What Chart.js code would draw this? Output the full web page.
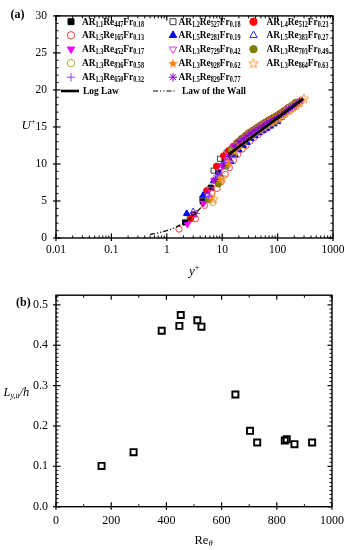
<!DOCTYPE html>
<html><head><meta charset="utf-8">
<script src="https://cdn.jsdelivr.net/npm/chart.js@4.4.1/dist/chart.umd.min.js"></script>
<style>html,body{margin:0;padding:0;background:#fff;}canvas{display:block;}</style>
</head><body>
<canvas id="c1" width="351" height="280"></canvas>
<canvas id="c2" width="351" height="270"></canvas>
<script>
// ---------- DATA: panel (a) ----------
const arVals = ['1.1','1.2','1.4','1.5','1.5','1.5','1.3','1.3','1.3','1.3','1.3','1.3','1.3','1.5'];
const reVals = ['447','527','512','165','281','383','452','729','703','836','928','864','650','829'];
const frVals = ['0.18','0.18','0.23','0.13','0.19','0.27','0.17','0.42','0.49','0.58','0.62','0.63','0.32','0.77'];

const yp447 = [2.14,3.1,4.45,6.2,8.5,11,14,17,20,24,28,33,39,46,54,63,74,86,100,116,135];
const up447 = [2.1,3.2,4.95,6.8,8.9,10.3,11.6,12.4,13.0,13.4,13.8,14.2,14.6,14.9,15.2,15.5,15.9,16.1,16.4,16.7,17.0];
const yp527 = [2.6,4.4,7.0,9.1,12,15,18,22,26,30,35,41,48,56,65,76,88,102,118,137,158];
const up527 = [2.7,5.3,9.1,10.7,11.5,12.1,12.7,13.3,13.7,14.1,14.4,14.75,15.1,15.4,15.7,16.0,16.25,16.55,16.85,17.2,17.55];
const yp512 = [2.7,5.25,7.9,10.6,13,16,19,23,27,32,37,44,52,60,70,82,95,110,128,150];
const up512 = [2.6,6.4,9.7,11.1,11.8,12.4,12.9,13.5,13.9,14.3,14.6,15.0,15.35,15.65,15.95,16.25,16.5,16.8,17.15,17.5];
const yp165 = [1.66,3.3,4.8,6.5,8.1,9.6,11.4,13.5,16,19,23,27,32,38,45,53,62,72];
const up165 = [1.2,2.6,4.4,6.05,6.7,7.6,8.6,9.5,10.5,11.3,12.0,12.5,13.1,13.6,14.0,14.45,14.8,15.1];
const yp281 = [2.29,4.5,7.0,9.1,11.5,14.4,17,20,24,28,33,39,46,54,63,74,86,100];
const up281 = [3.3,5.75,7.7,8.6,9.6,10.3,11.2,11.9,12.5,12.9,13.4,13.8,14.2,14.5,14.8,15.1,15.4,15.7];
const yp383 = [3.0,5.5,8.3,12,15,18,21,25,29,34,40,47,55,64,75,87,101,117];
const up383 = [3.55,5.9,8.2,10.0,11.3,12.0,12.5,13.0,13.4,13.8,14.1,14.45,14.8,15.1,15.4,15.65,15.95,16.25];
const yp452 = [2.35,4.6,7.1,10,13,16,19,22,26,31,36,42,49,57,67,78,91,106,123,140];
const up452 = [1.85,4.7,7.8,9.8,11.0,12.3,12.9,13.3,13.7,14.1,14.4,14.75,15.1,15.4,15.7,16.0,16.3,16.6,16.9,17.2];
const yp729 = [3.2,6.0,9.0,12.5,16,20,24,28,33,39,46,54,63,74,86,100,116,135,158,185,215];
const up729 = [3.3,6.6,9.0,10.6,12.0,12.8,13.2,13.6,14.0,14.35,14.7,15.0,15.35,15.65,15.9,16.2,16.5,16.85,17.25,17.6,17.95];
const yp703 = [5.7,8.5,11.5,14.5,18,22,26,30,35,41,48,56,65,76,88,102,118,137,160,185,212];
const up703 = [5.2,7.3,9.8,11.9,12.8,13.4,13.8,14.2,14.5,14.85,15.2,15.5,15.8,16.1,16.35,16.65,16.95,17.3,17.7,18.0,18.35];
const yp836 = [6.7,9.5,12.5,16,20,24,28,33,39,46,54,63,74,86,100,116,135,158,185,215,245];
const up836 = [4.8,7.9,9.8,11.2,12.4,13.0,13.4,13.8,14.15,14.5,14.8,15.15,15.45,15.7,16.0,16.3,16.65,17.05,17.4,17.75,18.1];
const yp928 = [6.3,9.0,12.5,16,19,23,27,32,37,44,52,60,70,82,95,110,128,150,172,200,235,270];
const up928 = [5.5,8.0,10.3,11.7,12.6,13.3,13.7,14.1,14.4,14.8,15.15,15.45,15.75,16.05,16.3,16.6,16.95,17.3,17.65,18.0,18.35,18.65];
const yp864 = [7.0,10,13,17,20,24,29,34,40,47,55,64,75,87,101,117,136,158,184,214,250,300];
const up864 = [5.3,8.2,10.2,11.9,12.7,13.2,13.7,14.1,14.45,14.8,15.15,15.45,15.75,16.0,16.3,16.6,16.95,17.35,17.7,18.05,18.4,18.85];
const yp650 = [3.4,5.6,8.0,11,14,17,21,25,30,35,41,48,56,65,76,88,102,118,137,160,185];
const up650 = [3.3,5.6,8.4,10.2,11.4,12.3,13.0,13.4,13.9,14.2,14.55,14.9,15.2,15.5,15.8,16.05,16.35,16.65,17.0,17.4,17.7];
const yp829 = [7.5,10.5,13.5,17,20,24,28,33,39,46,54,63,74,86,100,116,135,158,185,215,250];
const up829 = [7.9,9.8,11.0,12.4,13.0,13.4,13.8,14.2,14.55,14.9,15.2,15.55,15.85,16.1,16.4,16.7,17.05,17.45,17.8,18.15,18.5];

const logLawY = [13, 30, 100, 290];
const logLawU = [11.26, 13.30, 16.23, 18.83];
const wallY = [0.5,0.6,0.7,0.8,1,1.2,1.5,2,2.5,3,4,5];
const wallU = [0.5,0.6,0.7,0.8,1,1.2,1.5,2,2.5,3,4,5];

const xTicksA = [0.01, 0.1, 1, 10, 100, 1000];
const xTickLabelsA = ['0.01','0.1','1','10','100','1000'];
const yTicksA = [0, 5, 10, 15, 20, 25, 30];

// ---------- DATA: panel (b) ----------
const reTheta = [165, 281, 383, 447, 452, 512, 527, 650, 703, 729, 829, 836, 864, 928];
const lyh = [0.101, 0.135, 0.436, 0.448, 0.475, 0.462, 0.446, 0.278, 0.188, 0.159, 0.164, 0.167, 0.155, 0.159];
const xTicksB = [0, 200, 400, 600, 800, 1000];
const yTicksB = [0.0, 0.1, 0.2, 0.3, 0.4, 0.5];

// ---------- styles ----------
const SERIF = '"Liberation Serif", "Times New Roman", serif';
Chart.defaults.color = '#000';
Chart.defaults.font.family = SERIF;

function makeStar(color, filled) {
  const s = 12, c = document.createElement('canvas');
  c.width = s; c.height = s;
  const g = c.getContext('2d');
  g.beginPath();
  for (let i = 0; i < 10; i++) {
    const r = i % 2 ? 2.1 : 5.0;
    const a = -Math.PI / 2 + i * Math.PI / 5;
    const px = s / 2 + r * Math.cos(a), py = s / 2 + 0.5 + r * Math.sin(a);
    if (i) g.lineTo(px, py); else g.moveTo(px, py);
  }
  g.closePath();
  if (filled) { g.fillStyle = color; g.fill(); }
  else { g.strokeStyle = color; g.lineWidth = 1; g.stroke(); }
  return c;
}

const profiles = [[yp447,up447],[yp527,up527],[yp512,up512],[yp165,up165],[yp281,up281],[yp383,up383],
  [yp452,up452],[yp729,up729],[yp703,up703],[yp836,up836],[yp928,up928],[yp864,up864],[yp650,up650],[yp829,up829]];

const styles = [
  {style:'rect', color:'#000000', fill:true, r:3.6},
  {style:'rect', color:'#3a3a3a', fill:false, r:3.6},
  {style:'circle', color:'#ff0000', fill:true, r:3.1},
  {style:'circle', color:'#ff3b3b', fill:false, r:3.1},
  {style:'triangle', color:'#0000ff', fill:true, r:3.7},
  {style:'triangle', color:'#2a2ae8', fill:false, r:3.7},
  {style:'triangle', rot:180, color:'#ff00ff', fill:true, r:3.7},
  {style:'triangle', rot:180, color:'#e033e0', fill:false, r:3.7},
  {style:'circle', color:'#7f7f00', fill:true, r:3.1},
  {style:'circle', color:'#a6a632', fill:false, r:3.1},
  {style:'star5', color:'#ff8000', fill:true},
  {style:'star5', color:'#ff9a30', fill:false},
  {style:'cross', color:'#9040ff', fill:false, r:3.6},
  {style:'star', color:'#8000d0', fill:false, r:3.6}
];
styles.forEach(s => { if (s.style === 'star5') s.img = makeStar(s.color, s.fill); });

// ---------- helpers ----------
function drawMarker(ctx, st, x, y, r) {
  ctx.save();
  if (st.style === 'star5') { ctx.drawImage(st.img, x - st.img.width / 2, y - st.img.height / 2); ctx.restore(); return; }
  ctx.strokeStyle = st.color; ctx.fillStyle = st.color; ctx.lineWidth = 1;
  ctx.beginPath();
  if (st.style === 'circle') { ctx.arc(x, y, r, 0, Math.PI * 2); }
  else if (st.style === 'rect') { const s = r * Math.SQRT1_2; ctx.rect(x - s, y - s, 2 * s, 2 * s); }
  else if (st.style === 'triangle') {
    let rad = (st.rot || 0) * Math.PI / 180;
    for (let i = 0; i < 3; i++) {
      const px = x + Math.sin(rad) * r, py = y - Math.cos(rad) * r;
      if (i) ctx.lineTo(px, py); else ctx.moveTo(px, py);
      rad += 2 * Math.PI / 3;
    }
    ctx.closePath();
  } else if (st.style === 'cross') {
    ctx.moveTo(x, y - r); ctx.lineTo(x, y + r); ctx.moveTo(x - r, y); ctx.lineTo(x + r, y);
  } else if (st.style === 'star') {
    ctx.moveTo(x, y - r); ctx.lineTo(x, y + r); ctx.moveTo(x - r, y); ctx.lineTo(x + r, y);
    const d = r * Math.SQRT1_2;
    ctx.moveTo(x - d, y - d); ctx.lineTo(x + d, y + d); ctx.moveTo(x - d, y + d); ctx.lineTo(x + d, y - d);
  }
  if (st.fill && st.style !== 'cross' && st.style !== 'star') ctx.fill();
  ctx.stroke();
  ctx.restore();
}

function textWidth(ctx, parts) {
  let w = 0;
  ctx.save();
  parts.forEach(p => { ctx.font = p.f; w += ctx.measureText(p.t).width; });
  ctx.restore();
  return w;
}

function richText(ctx, parts, x, y, sx) {
  ctx.save();
  ctx.translate(x, y);
  if (sx) ctx.scale(sx, 1);
  ctx.textBaseline = 'middle'; ctx.textAlign = 'left'; ctx.fillStyle = '#000';
  let cx = 0;
  parts.forEach(p => { ctx.font = p.f; ctx.fillText(p.t, cx, p.dy || 0); cx += ctx.measureText(p.t).width; });
  ctx.restore();
}

const frameTicks = {
  id: 'frameTicks',
  afterDraw(chart, args, o) {
    const {ctx, chartArea: a, scales} = chart;
    const xs = scales.x, ys = scales.y;
    ctx.save();
    ctx.strokeStyle = '#000';
    const ln = (x1, y1, x2, y2) => { ctx.beginPath(); ctx.moveTo(x1, y1); ctx.lineTo(x2, y2); ctx.stroke(); };
    ctx.lineWidth = 1;
    o.xMinor.forEach(v => { const x = xs.getPixelForValue(v); ln(x, a.bottom, x, a.bottom - 2.5); ln(x, a.top, x, a.top + 2.5); });
    o.yMinor.forEach(v => { const y = ys.getPixelForValue(v); ln(a.left, y, a.left + 2.5, y); ln(a.right, y, a.right - 2.5, y); });
    ctx.lineWidth = 1.2;
    o.xMajor.forEach(v => { const x = xs.getPixelForValue(v); ln(x, a.bottom + 3, x, a.bottom - 4.5); ln(x, a.top, x, a.top + 4.5); });
    o.yMajor.forEach(v => { const y = ys.getPixelForValue(v); ln(a.left - 3, y, a.left + 4.5, y); ln(a.right, y, a.right - 4.5, y); });
    ctx.lineWidth = 1.4;
    ctx.strokeRect(a.left, a.top, a.right - a.left, a.bottom - a.top);
    ctx.restore();
  }
};

// ---------- chart (a) ----------
const legendA = {
  id: 'legendA',
  afterDraw(chart) {
    const ctx = chart.ctx;
    const colM = [71, 173, 253.5], colT = [82, 178.5, 266.5], rows = [21.7, 35.3, 49.2, 63.2, 77.2];
    const F = 'bold 11px ' + SERIF, FS = 'bold 7.2px ' + SERIF;
    const entry = i => [
      {t:'AR', f:F}, {t:arVals[i], f:FS, dy:3},
      {t:'Re', f:F}, {t:reVals[i], f:FS, dy:3},
      {t:'Fr', f:F}, {t:frVals[i], f:FS, dy:3}
    ];
    const sx = Math.min(1, 62 / textWidth(ctx, entry(0)));
    for (let i = 0; i < reVals.length; i++) {
      const c = i % 3, r = Math.floor(i / 3);
      drawMarker(ctx, styles[i], colM[c], rows[r], (styles[i].r || 3.6) + 0.6);
      richText(ctx, entry(i), colT[c], rows[r], sx);
    }
    const ly = 91;
    ctx.save();
    ctx.strokeStyle = '#000'; ctx.lineWidth = 2.6;
    ctx.beginPath(); ctx.moveTo(61, ly); ctx.lineTo(79, ly); ctx.stroke();
    ctx.lineWidth = 1.2; ctx.setLineDash([5, 2, 1.2, 2, 1.2, 2]);
    ctx.beginPath(); ctx.moveTo(153, ly); ctx.lineTo(176, ly); ctx.stroke();
    ctx.restore();
    richText(ctx, [{t:'Log Law', f:F}], 83, ly, sx);
    richText(ctx, [{t:'Law of the Wall', f:F}], 182, ly, sx);
    // panel label and axis titles
    richText(ctx, [{t:'(a)', f:'bold 12px ' + SERIF}], 10.5, 15);
    richText(ctx, [{t:'U', f:'italic 13px ' + SERIF}, {t:'+', f:'8px ' + SERIF, dy:-4.5}], 21.5, 126);
    richText(ctx, [{t:'y', f:'italic 13px ' + SERIF}, {t:'+', f:'8px ' + SERIF, dy:-4.5}], 189, 272);
  }
};

const minorA_x = [];
[0.01, 0.1, 1, 10, 100].forEach(d => { for (let k = 2; k <= 9; k++) minorA_x.push(d * k); });
const minorA_y = [];
for (let v = 0; v <= 30; v++) if (v % 5) minorA_y.push(v);

const dsA = profiles.map((p, i) => {
  const st = styles[i];
  return {
    label: 'AR' + arVals[i] + 'Re' + reVals[i] + 'Fr' + frVals[i],
    data: p[0].map((v, j) => ({x: v, y: p[1][j]})),
    pointStyle: st.style === 'star5' ? st.img : st.style,
    rotation: st.rot || 0,
    pointRadius: st.r || 4,
    backgroundColor: st.fill ? st.color : 'rgba(0,0,0,0)',
    borderColor: st.color,
    borderWidth: 1,
    showLine: false,
    order: 20 - i
  };
});
dsA.push({
  label: 'Log Law', data: logLawY.map((v, j) => ({x: v, y: logLawU[j]})),
  showLine: true, borderColor: '#000', borderWidth: 2.6, pointRadius: 0, order: 0
});
dsA.push({
  label: 'Law of the Wall', data: wallY.map((v, j) => ({x: v, y: wallU[j]})),
  showLine: true, borderColor: '#000', borderWidth: 1.2, borderDash: [5, 2, 1.2, 2, 1.2, 2], pointRadius: 0, order: 1
});

new Chart(document.getElementById('c1'), {
  type: 'scatter',
  data: { datasets: dsA },
  options: {
    responsive: false, animation: false, events: [],
    layout: { padding: { top: 8, right: 18, left: 0, bottom: 0 } },
    plugins: { legend: { display: false }, tooltip: { enabled: false },
      frameTicks: { xMajor: xTicksA, xMinor: minorA_x, yMajor: yTicksA, yMinor: minorA_y } },
    scales: {
      x: {
        type: 'logarithmic', min: 0.01, max: 1000,
        afterFit: s => { s.height = 42; },
        afterBuildTicks: s => { s.ticks = xTicksA.map(v => ({value: v})); },
        ticks: { callback: (v, i) => xTickLabelsA[i], autoSkip: false, maxRotation: 0, padding: 5, font: { size: 11.5 } },
        grid: { display: false, drawTicks: false }, border: { display: false }
      },
      y: {
        min: 0, max: 30,
        afterFit: s => { s.width = 56; },
        afterBuildTicks: s => { s.ticks = yTicksA.map(v => ({value: v})); },
        ticks: { callback: v => String(v), autoSkip: false, padding: 9, font: { size: 11.5 } },
        grid: { display: false, drawTicks: false }, border: { display: false }
      }
    }
  },
  plugins: [frameTicks, legendA]
});

// ---------- chart (b) ----------
const minorB_x = [];
for (let v = 100; v < 1000; v += 200) minorB_x.push(v);
const minorB_y = [];
for (let k = 1; k <= 52; k++) if (k % 10) minorB_y.push(k / 100);

const titlesB = {
  id: 'titlesB',
  afterDraw(chart) {
    const ctx = chart.ctx;
    richText(ctx, [{t:'(b)', f:'bold 12px ' + SERIF}], 16, 23);
    richText(ctx, [{t:'L', f:'italic 12.5px ' + SERIF}, {t:'y,u', f:'italic 8px ' + SERIF, dy:3}, {t:'/h', f:'italic 12.5px ' + SERIF}], 3.5, 113);
    richText(ctx, [{t:'Re', f:'12.5px ' + SERIF}, {t:'\u03B8', f:'italic 8.5px ' + SERIF, dy:3}], 194.5, 261);
  }
};

new Chart(document.getElementById('c2'), {
  type: 'scatter',
  data: { datasets: [{
    label: 'Ly/h',
    data: reTheta.map((v, j) => ({x: v, y: lyh[j]})),
    pointStyle: 'rect', pointRadius: 4.3, borderWidth: 1.9,
    borderColor: '#000', backgroundColor: 'rgba(0,0,0,0)'
  }] },
  options: {
    responsive: false, animation: false, events: [],
    layout: { padding: { top: 8.3, right: 17, left: 0, bottom: 0 } },
    plugins: { legend: { display: false }, tooltip: { enabled: false },
      frameTicks: { xMajor: xTicksB, xMinor: minorB_x, yMajor: yTicksB, yMinor: minorB_y } },
    scales: {
      x: {
        type: 'linear', min: 0, max: 1000,
        afterFit: s => { s.height = 43.3; },
        afterBuildTicks: s => { s.ticks = xTicksB.map(v => ({value: v})); },
        ticks: { callback: v => String(v), autoSkip: false, maxRotation: 0, padding: 7, font: { size: 12 } },
        grid: { display: false, drawTicks: false }, border: { display: false }
      },
      y: {
        min: 0, max: 0.524,
        afterFit: s => { s.width = 56; },
        afterBuildTicks: s => { s.ticks = yTicksB.map(v => ({value: v})); },
        ticks: { callback: v => v.toFixed(1), autoSkip: false, padding: 8, font: { size: 12 } },
        grid: { display: false, drawTicks: false }, border: { display: false }
      }
    }
  },
  plugins: [frameTicks, titlesB]
});
</script>
</body></html>
